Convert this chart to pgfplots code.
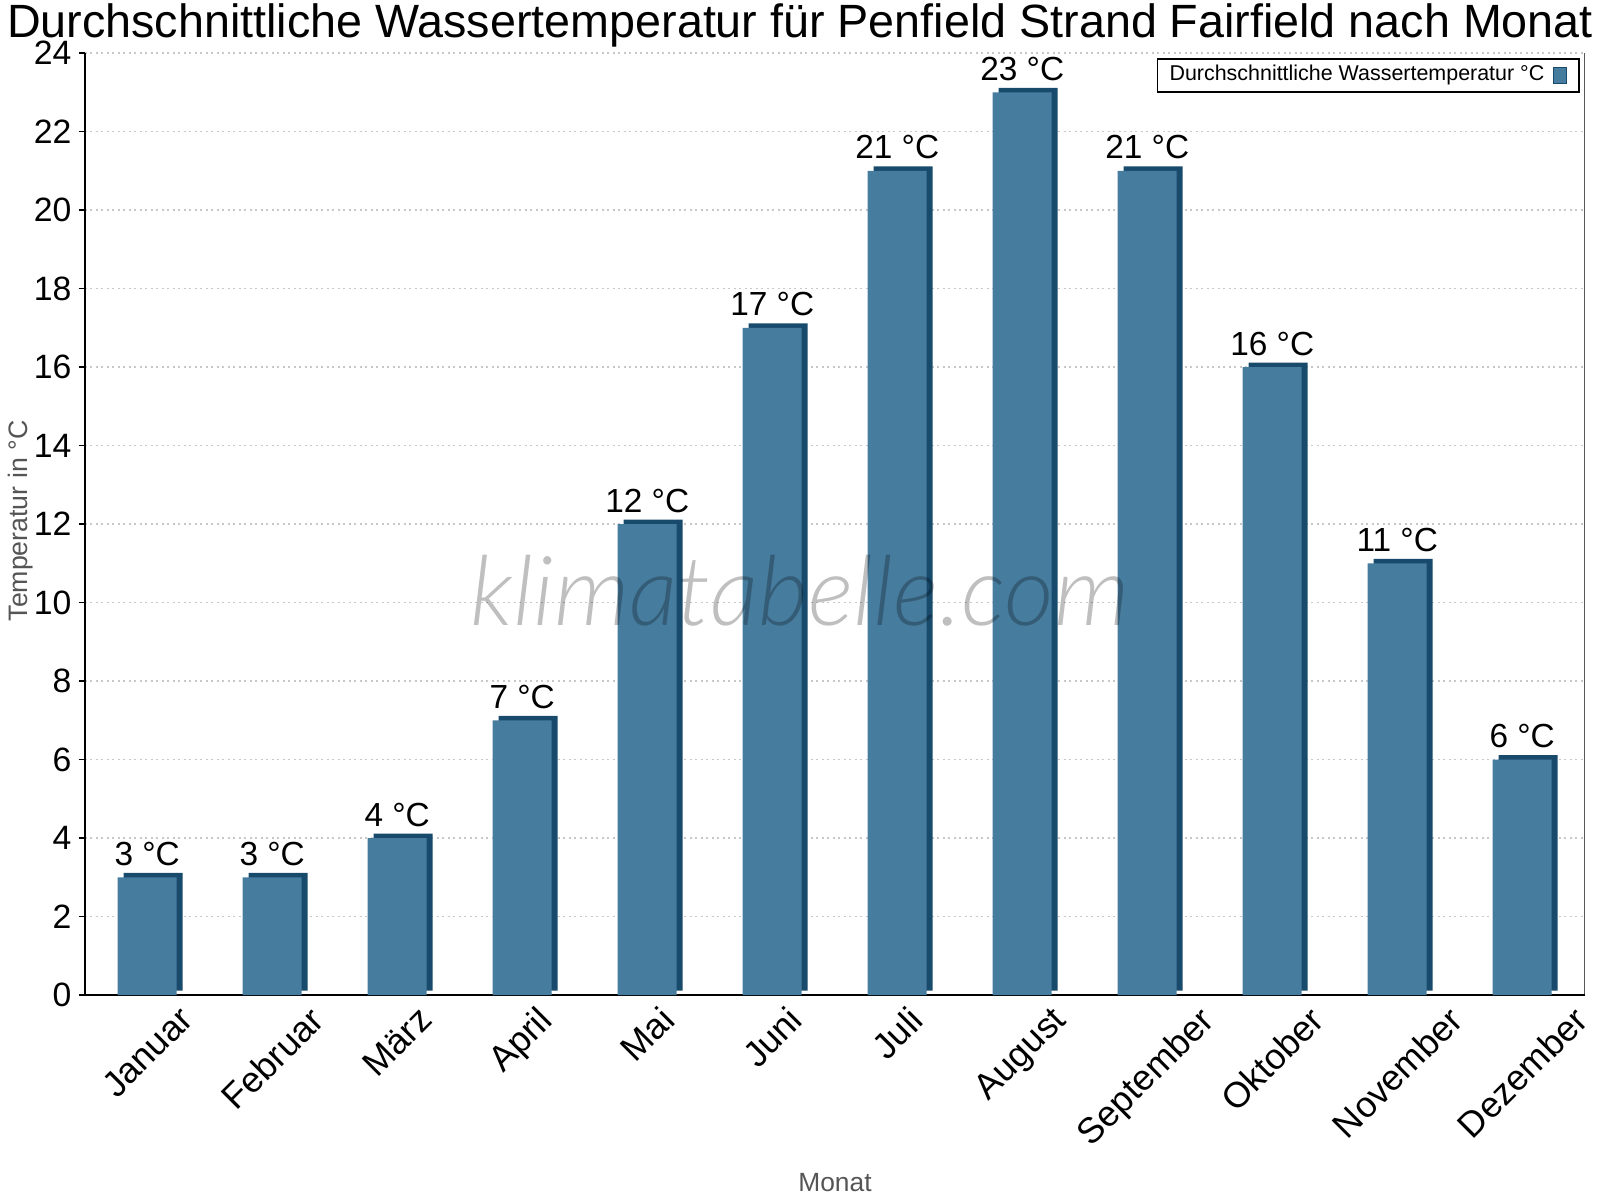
\documentclass[border=0pt]{standalone}
\usepackage{fontspec}
\setmainfont{Liberation Sans}
\newfontfamily\wmfont{Lato Light Italic}
\usepackage{pgfplots}
\pgfplotsset{compat=1.18}
\pgfkeys{/pgf/number format/assume math mode=true}
\definecolor{barfront}{RGB}{70,124,158}
\definecolor{bardark}{RGB}{24,74,108}
\definecolor{gridc}{RGB}{200,200,200}
\definecolor{labgray}{RGB}{85,85,85}
\begin{document}
\begin{tikzpicture}
\useasboundingbox (-0.847cm,-2.05cm) rectangle (15.153cm,9.95cm);
\begin{axis}[
  at={(0,0)}, anchor=south west,
  scale only axis, width=15.0cm, height=9.42cm,
  xmin=-0.5, xmax=11.5, ymin=0, ymax=24,
  axis x line*=bottom, axis y line*=left,
  axis line style={black, line width=0.5pt},
  xtick={0,...,11},
  xticklabels={\rotatebox{45}{Januar},\rotatebox{45}{Februar},\rotatebox{45}{März},\rotatebox{45}{April},\rotatebox{45}{Mai},\rotatebox{45}{Juni},\rotatebox{45}{Juli},\rotatebox{45}{August},\rotatebox{45}{September},\rotatebox{45}{Oktober},\rotatebox{45}{November},\rotatebox{45}{Dezember}},
  x tick style={draw=none},
  xticklabel style={font=\fontsize{10.2}{12}\selectfont, anchor=north, inner sep=0pt, yshift=-0.3mm},
  extra x ticks={-0.5,0.5,...,11.5},
  extra x tick labels={},
  extra x tick style={major tick length=0.8mm, tick align=outside, tick style={draw=black, line width=0.5pt}},
  ytick={0,2,...,24},
  y tick style={black, line width=0.5pt},
  major tick length=0.6mm,
  tick align=outside,
  yticklabel style={font=\fontsize{9.6}{11}\selectfont, inner sep=0pt, xshift=-0.65mm},
  ymajorgrids,
  grid style={gridc, line width=0.4pt, dash pattern=on 0.2mm off 0.35mm},
  legend plot pos=right,
  legend style={at={(1,1)}, anchor=north east, xshift=-0.05cm, yshift=-0.05cm,
    draw=black, line width=0.5pt, font=\fontsize{6.1}{7}\selectfont,
    inner xsep=0.3mm, inner ysep=0pt,
    nodes={inner ysep=0.6mm, inner xsep=0.9mm}},
  legend image code/.code={\draw[fill=barfront, draw=bardark, line width=0.3pt] (0.5mm,-0.8mm) rectangle (1.8mm,0.8mm); \path (2.7mm,0);},
]
\addplot[ybar, bar width=0.59cm, fill=bardark, draw=none, xshift=0.6mm, yshift=0.45mm, forget plot]
  coordinates {(0,3) (1,3) (2,4) (3,7) (4,12) (5,17) (6,21) (7,23) (8,21) (9,16) (10,11) (11,6)};
\addplot[ybar, bar width=0.59cm, fill=barfront, draw=none,
  nodes near coords={\pgfmathprintnumber{\pgfplotspointmeta} °C},
  every node near coord/.append style={font=\fontsize{9.5}{11}\selectfont, anchor=base, yshift=1.2mm, black}]
  coordinates {(0,3) (1,3) (2,4) (3,7) (4,12) (5,17) (6,21) (7,23) (8,21) (9,16) (10,11) (11,6)};
\addlegendentry{Durchschnittliche Wassertemperatur °C}
\draw[black, line width=0.5pt] (rel axis cs:1,0) -- (rel axis cs:1,1);
\end{axis}
\node[anchor=base, font=\fontsize{13.28}{15}\selectfont, inner sep=0pt] at (7.153cm,9.57cm) {Durchschnittliche Wassertemperatur für Penfield Strand Fairfield nach Monat};
\node[rotate=90, font=\fontsize{7.6}{9}\selectfont, text=labgray, inner sep=0pt] at (-0.643cm,4.74cm) {Temperatur in °C};
\node[font=\fontsize{7.5}{9}\selectfont, text=labgray, inner sep=0pt] at (7.503cm,-1.88cm) {Monat};
\node[anchor=base, font=\wmfont\fontsize{27.5}{32}\selectfont, text=black, opacity=0.25, inner sep=0pt] at (7.153cm,3.70cm) {klimatabelle.com};
\end{tikzpicture}
\end{document}
